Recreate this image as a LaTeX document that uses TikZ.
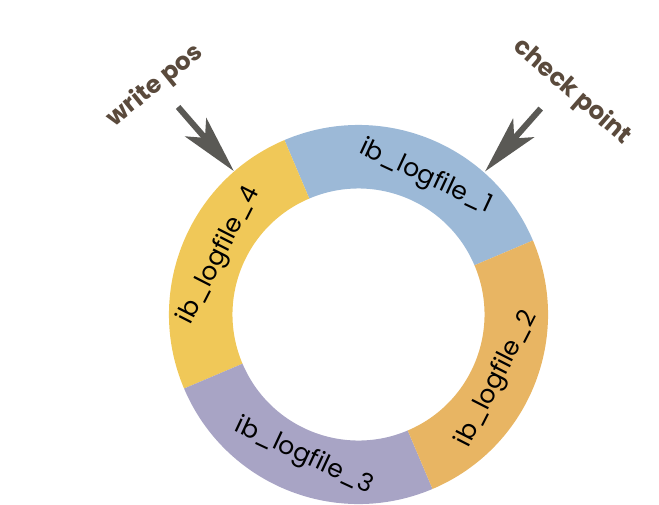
\documentclass[tikz,border=0pt]{standalone}
\usepackage{fontspec}
\setmainfont{Poppins}
\usetikzlibrary{arrows.meta,calc}
\definecolor{segblue}{HTML}{9CB9D7}
\definecolor{segorange}{HTML}{E8B563}
\definecolor{segpurple}{HTML}{A8A4C5}
\definecolor{segyellow}{HTML}{F0C858}
\definecolor{tagbrown}{HTML}{5A4A3C}
\definecolor{arrowgrey}{HTML}{5A5955}
\begin{document}
\begin{tikzpicture}[x=1pt,y=1pt,
  lbl/.style={font=\fontsize{25}{30}\selectfont, text=black, inner sep=0pt},
  tag/.style={font=\bfseries\fontsize{24.5}{29}\selectfont, text=tagbrown, inner sep=0pt},
  pointer/.style={line width=6pt, draw=arrowgrey, -{Stealth[length=58pt,width=28pt,inset=14pt]}}]
\useasboundingbox (0,0) rectangle (659,-504);
\coordinate (C) at (358.5,-314.5);
% ring segments
\fill[segblue] ($(C)+(23:189.5)$) arc[start angle=23,end angle=113,radius=189.5pt]
  -- ($(C)+(113:126)$) arc[start angle=113,end angle=23,radius=126pt] -- cycle;
\fill[segyellow] ($(C)+(113:189.5)$) arc[start angle=113,end angle=203,radius=189.5pt]
  -- ($(C)+(203:126)$) arc[start angle=203,end angle=113,radius=126pt] -- cycle;
\fill[segpurple] ($(C)+(203:189.5)$) arc[start angle=203,end angle=293,radius=189.5pt]
  -- ($(C)+(293:126)$) arc[start angle=293,end angle=203,radius=126pt] -- cycle;
\fill[segorange] ($(C)+(-67:189.5)$) arc[start angle=-67,end angle=23,radius=189.5pt]
  -- ($(C)+(23:126)$) arc[start angle=23,end angle=-67,radius=126pt] -- cycle;
% labels
\node[lbl, rotate=-25] (l1) at ($(C)+(64:153)$) {ib\_logfile\_1};
\node[lbl, rotate=63] (l2) at ($(C)+(-25:153)$) {ib\_logfile\_2};
\node[lbl, rotate=-25] (l3) at ($(C)+(249:152)$) {ib\_logfile\_3};
\node[lbl, rotate=63] (l4) at ($(C)+(157:151)$) {ib\_logfile\_4};
% pointers
\coordinate (wpS) at ($(C)+(131:275)$);
\coordinate (wpT) at ($(C)+(131:190)$);
\coordinate (cpS) at ($(C)+(48.5:275)$);
\coordinate (cpT) at ($(C)+(48.5:191)$);
\draw[pointer] (wpS) -- (wpT);
\draw[pointer] (cpS) -- (cpT);
\node[tag, rotate=39] (wp) at (155,-86) {write pos};
\node[tag, rotate=-41] (cp) at (572,-92) {check point};
\end{tikzpicture}
\end{document}
